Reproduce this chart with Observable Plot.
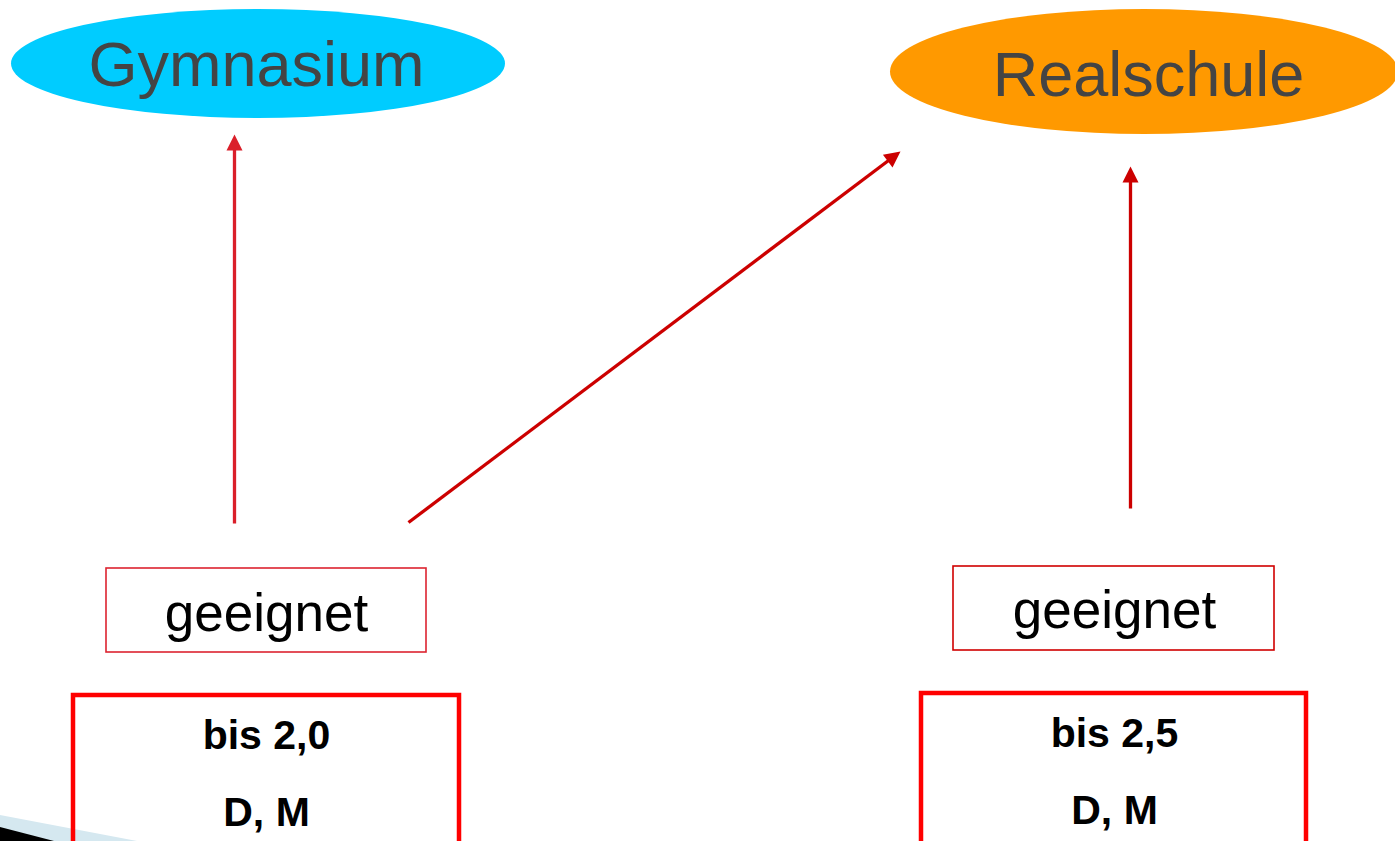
<!DOCTYPE html>
<html>
<head>
<meta charset="utf-8">
<script src="https://cdn.jsdelivr.net/npm/d3@7"></script>
<script src="https://cdn.jsdelivr.net/npm/@observablehq/plot@0.6"></script>
<style>
  html, body { margin: 0; padding: 0; background: #fff; overflow: hidden; }
  #chart svg { display: block; }
</style>
</head>
<body>
<div id="chart"></div>
<script>
// ---- data (diagram coordinates in a 1395 x 841 canvas) ----
const schoolNames   = ["Gymnasium", "Realschule"];
const schoolColors  = ["#00CCFF", "#FF9900"];
const schoolX1      = [11, 890];
const schoolX2      = [505, 1398];
const schoolY1      = [9, 9];
const schoolY2      = [118, 134];
const schoolLabelX  = [256, 1148];
const schoolLabelY  = [65, 75];

const suitLabels    = ["geeignet", "geeignet"];
const suitX1        = [106, 953];
const suitX2        = [426, 1274];
const suitY1        = [568, 566];
const suitY2        = [652, 650];
const suitStroke    = ["#DD2430", "#D00000"];
const suitLabelX    = [266, 1114];
const suitLabelY    = [614, 611];

const gradeLines1   = ["bis 2,0", "bis 2,5"];
const gradeLines2   = ["D, M", "D, M"];
const gradeX1       = [73, 921];
const gradeX2       = [459, 1306];
const gradeY1       = [695, 693];
const gradeY2       = [850, 850];
const gradeLabelX   = [266, 1114];
const gradeLine1Y   = [735, 733];
const gradeLine2Y   = [812, 810];

const arrowFromX    = [234, 408, 1130];
const arrowFromY    = [523, 522, 508];
const arrowToX      = [234, 900, 1130];
const arrowToY      = [134, 151, 166];
const arrowColors   = ["#DA1F2A", "#CC0000", "#CC0000"];

const decoX         = [0, 137];
const decoTopBlue   = [815, 841];
const decoXBlack    = [0, 54];
const decoTopBlack  = [827, 841];

// ---- derived tables ----
const schools = schoolNames.map((name, i) => ({
  name, color: schoolColors[i],
  x1: schoolX1[i], x2: schoolX2[i], y1: schoolY1[i], y2: schoolY2[i],
  lx: schoolLabelX[i], ly: schoolLabelY[i]
}));
const suits = suitLabels.map((label, i) => ({
  label, stroke: suitStroke[i],
  x1: suitX1[i], x2: suitX2[i], y1: suitY1[i], y2: suitY2[i],
  lx: suitLabelX[i], ly: suitLabelY[i]
}));
const grades = gradeLines1.map((l1, i) => ({
  l1, l2: gradeLines2[i],
  x1: gradeX1[i], x2: gradeX2[i], y1: gradeY1[i], y2: gradeY2[i],
  lx: gradeLabelX[i], ly1: gradeLine1Y[i], ly2: gradeLine2Y[i]
}));

// custom filled arrow-head symbol: tip at (0,-tipOffset), base at (0, headLen - tipOffset)
const headLen = 16, headHalfW = 8, tipOffset = 10;
const headSymbol = {
  draw(context) {
    context.moveTo(0, -tipOffset);
    context.lineTo(headHalfW, headLen - tipOffset);
    context.lineTo(-headHalfW, headLen - tipOffset);
    context.closePath();
  }
};

const arrows = arrowFromX.map((fx, i) => {
  const tx = arrowToX[i], ty = arrowToY[i];
  const dx = tx - fx, dy = ty - arrowFromY[i];
  const len = Math.hypot(dx, dy);
  const ux = dx / len, uy = dy / len;
  return {
    fx, fy: arrowFromY[i],
    ex: tx - ux * tipOffset, ey: ty - uy * tipOffset,
    hx: tx - ux * tipOffset, hy: ty - uy * tipOffset,
    rot: Math.atan2(dx, -dy) * 180 / Math.PI,
    color: arrowColors[i]
  };
});

const decoBlue = decoX.map((x, i) => ({x, top: decoTopBlue[i], bottom: 841}));
const decoBlack = decoXBlack.map((x, i) => ({x, top: decoTopBlack[i], bottom: 841}));

const font = "Liberation Sans, Arial, Helvetica, sans-serif";

const chart = Plot.plot({
  width: 1395,
  height: 841,
  margin: 0,
  x: {domain: [0, 1395], range: [0, 1395], axis: null},
  y: {domain: [0, 841], range: [0, 841], axis: null},
  style: {fontFamily: font, background: "#ffffff"},
  marks: [
    Plot.area(decoBlue, {x1: "x", y1: "top", y2: "bottom", fill: "#D5E8F0"}),
    Plot.area(decoBlack, {x1: "x", y1: "top", y2: "bottom", fill: "#000000"}),
    Plot.rect(schools, {x1: "x1", x2: "x2", y1: "y1", y2: "y2", fill: "color", rx: 2000, ry: 2000}),
    Plot.text(schools, {x: "lx", y: "ly", text: "name", fill: "#444444", fontSize: 63, textAnchor: "middle", fontFamily: font}),
    Plot.link(arrows, {x1: "fx", y1: "fy", x2: "ex", y2: "ey", stroke: "color", strokeWidth: 3.3}),
    Plot.dot(arrows, {x: "hx", y: "hy", symbol: headSymbol, r: 5, fill: "color", stroke: "none", rotate: "rot"}),
    Plot.rect(suits, {x1: "x1", x2: "x2", y1: "y1", y2: "y2", fill: "none", stroke: "stroke", strokeWidth: 1.6}),
    Plot.text(suits, {x: "lx", y: "ly", text: "label", fill: "#000000", fontSize: 53, textAnchor: "middle", fontFamily: font}),
    Plot.rect(grades, {x1: "x1", x2: "x2", y1: "y1", y2: "y2", fill: "none", stroke: "#FF0000", strokeWidth: 4.5}),
    Plot.text(grades, {x: "lx", y: "ly1", text: "l1", fill: "#000000", fontSize: 41, fontWeight: "bold", textAnchor: "middle", fontFamily: font}),
    Plot.text(grades, {x: "lx", y: "ly2", text: "l2", fill: "#000000", fontSize: 41, fontWeight: "bold", textAnchor: "middle", fontFamily: font})
  ]
});

document.getElementById("chart").appendChild(chart);
</script>
</body>
</html>
